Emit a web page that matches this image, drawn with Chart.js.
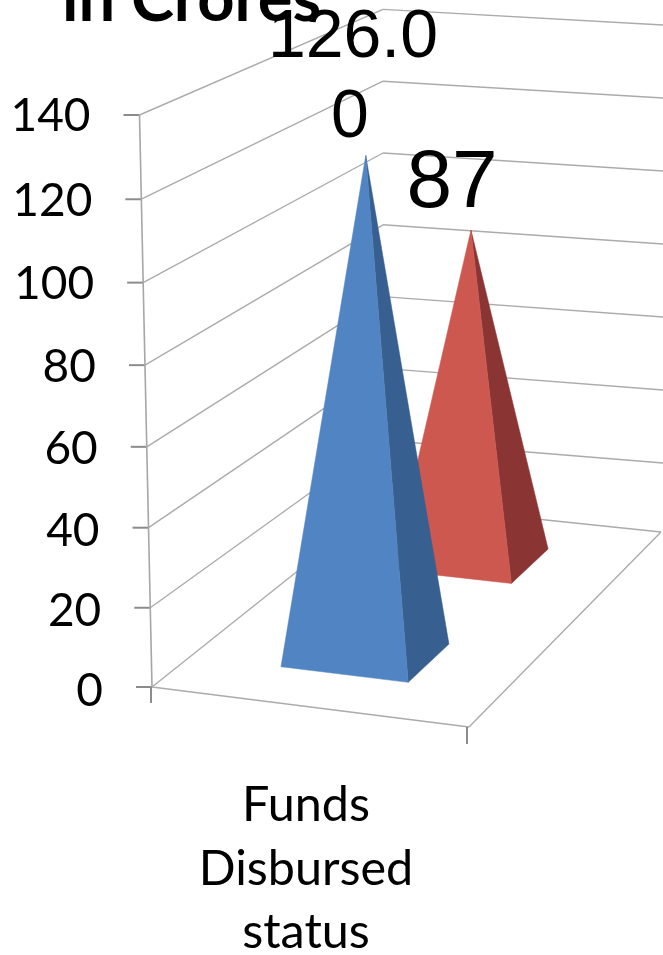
<!DOCTYPE html>
<html>
<head>
<meta charset="utf-8">
<style>html,body{margin:0;padding:0;background:#fff}canvas{display:block}</style>
<script src="https://cdn.jsdelivr.net/npm/chart.js@4/dist/chart.umd.js"></script>
</head>
<body>
<canvas id="c" width="663" height="955"></canvas>
<script>
// ---- data ----
const categories = [["Funds", "Disbursed", "status"]];
const seriesNames = ["Sanctioned", "Disbursed"];
const fundsA = [126];
const fundsB = [87];
const labelA = ["126.0", "0"];
const labelB = ["87"];
const axisMax = 140;
const axisStep = 20;
const chartTitle = "in Crores";

// ---- 3D look ----
const FL = [152, 687], FR = [469, 727], BR = [661, 532], BL = [383, 503];
const faceColors = [["#5084c3", "#375f8f"], ["#cd5850", "#8a3533"]];
const depthCentre = [0.27, 0.775], depthHalf = [0.1, 0.09], sideShift = [-0.006, -0.012];
const riseFront = 569, riseBack = 519.5;
const lerp = (a, b, t) => a + (b - a) * t;
const floorPt = (u, w) => [0, 1].map(i => lerp(lerp(FL[i], FR[i], u), lerp(BL[i], BR[i], u), w));
const axisX = (py) => lerp(139.5, 152, (py - 115) / 572);

class PerspectiveScale extends Chart.LinearScale {
  getPixelForDecimal(d) {
    const c = 0.965;
    return super.getPixelForDecimal(d * c / (1 + d * (c - 1)));
  }
  _computeLabelItems(area) {
    const items = super._computeLabelItems(area);
    items.forEach(it => {
      const py = it.options.translation[1];
      it.options.translation = [axisX(py) - 49, py + 1 + (py - 115) / 572 * 3];
      it.options.textAlign = "right";
    });
    return items;
  }
}
PerspectiveScale.id = "perspective";
PerspectiveScale.defaults = Chart.LinearScale.defaults;

class PyramidController extends Chart.BarController {
  draw() {
    const chart = this.chart, ctx = chart.ctx, area = chart.chartArea;
    const i = this.index, y = chart.scales.y;
    this.getMeta().data.forEach((bar, k) => {
      const v = this.getParsed(k).y;
      const u = (bar.x - area.left) / area.width + sideShift[i];
      const du = bar.width / area.width / 2;
      const w = depthCentre[i], dw = depthHalf[i];
      const c = floorPt(u, w);
      const a = floorPt(u - du, w - dw), b = floorPt(u + du, w - dw), d = floorPt(u + du, w + dw);
      const frac = (v - y.min) / (y.max - y.min);
      const apex = [c[0], c[1] - frac * lerp(riseFront, riseBack, w)];
      const tri = (p, q, col) => {
        ctx.fillStyle = col;
        ctx.strokeStyle = col;
        ctx.lineWidth = 0.5;
        ctx.beginPath();
        ctx.moveTo(p[0], p[1]); ctx.lineTo(q[0], q[1]); ctx.lineTo(apex[0], apex[1]);
        ctx.closePath(); ctx.fill(); ctx.stroke();
      };
      tri(b, d, faceColors[i][1]);
      tri(a, b, faceColors[i][0]);
    });
  }
}
PyramidController.id = "pyramid";
PyramidController.defaults = Chart.BarController.defaults;
PyramidController.overrides = Chart.BarController.overrides;
Chart.register(PerspectiveScale, PyramidController);

const wallPlugin = {
  id: "wall",
  beforeDatasetsDraw(chart) {
    const ctx = chart.ctx, y = chart.scales.y;
    const seg = (x1, y1, x2, y2, col, lw) => {
      ctx.strokeStyle = col; ctx.lineWidth = lw;
      ctx.beginPath(); ctx.moveTo(x1, y1); ctx.lineTo(x2, y2); ctx.stroke();
    };
    const line = "#ababab";
    y.ticks.forEach(t => {
      const py = y.getPixelForValue(t.value), ax = axisX(py);
      seg(ax - 16, py, ax, py, "#8c8c8c", 2);
      if (t.value > 0) {
        const by = 512 - 3.59 * t.value, ry = 536 - 3.65 * t.value;
        seg(ax, py, 383, by, line, 1.4);
        seg(383, by, 663, ry, line, 1.4);
      }
    });
    seg(139.5, 115, 152, 687, "#a6a6a6", 1.6);
    seg(FL[0], FL[1], FR[0], FR[1], line, 1.4);
    seg(FR[0], FR[1], BR[0], BR[1], line, 1.4);
    seg(BR[0], BR[1], BL[0], BL[1], line, 1.4);
    seg(BL[0], BL[1], FL[0], FL[1], line, 1.4);
    seg(FL[0] - 1, FL[1], FL[0] - 1, 703, "#8c8c8c", 2);
    seg(FR[0] - 2, FR[1], FR[0] - 2, 744, "#8c8c8c", 2);
  },
  afterDatasetsDraw(chart) {
    const ctx = chart.ctx;
    ctx.save();
    ctx.fillStyle = "#000";
    ctx.textBaseline = "alphabetic";
    ctx.textAlign = "center";
    ctx.font = '68px "Liberation Sans"';
    ctx.fillText(labelA[0], 353, 57);
    ctx.fillText(labelA[1], 350, 137);
    ctx.font = '82px "Liberation Sans"';
    ctx.fillText(labelB[0], 452, 207);
    ctx.textAlign = "left";
    ctx.font = 'bold 65px Lato';
    ctx.fillText(chartTitle, 62, 21);
    ctx.restore();
  }
};

new Chart(document.getElementById("c"), {
  type: "bar",
  data: {
    labels: categories,
    datasets: [
      { type: "pyramid", label: seriesNames[0], data: fundsA, backgroundColor: faceColors[0][0], clip: false },
      { type: "pyramid", label: seriesNames[1], data: fundsB, backgroundColor: faceColors[1][0], clip: false }
    ]
  },
  options: {
    responsive: false,
    animation: false,
    devicePixelRatio: 1,
    layout: { padding: { top: 115, right: 201, left: 0, bottom: 0 } },
    plugins: { legend: { display: false }, title: { display: false }, tooltip: { enabled: false } },
    datasets: { pyramid: { categoryPercentage: 0.82, barPercentage: 0.5 } },
    scales: {
      x: {
        type: "category", stacked: true, offset: true,
        grid: { display: false }, border: { display: false },
        ticks: { maxRotation: 0, minRotation: 0, autoSkip: false, padding: 79, color: "#000",
                 font: { family: "Lato", size: 48.5, lineHeight: 1.31 } },
        afterFit(s) { s.height = 268; }
      },
      y: {
        type: "perspective", min: 0, max: axisMax,
        grid: { display: false }, border: { display: false },
        ticks: { stepSize: axisStep, color: "#000", font: { family: "Lato", size: 46 } },
        afterFit(s) { s.width = 150; }
      }
    }
  },
  plugins: [wallPlugin]
});
</script>
</body>
</html>
